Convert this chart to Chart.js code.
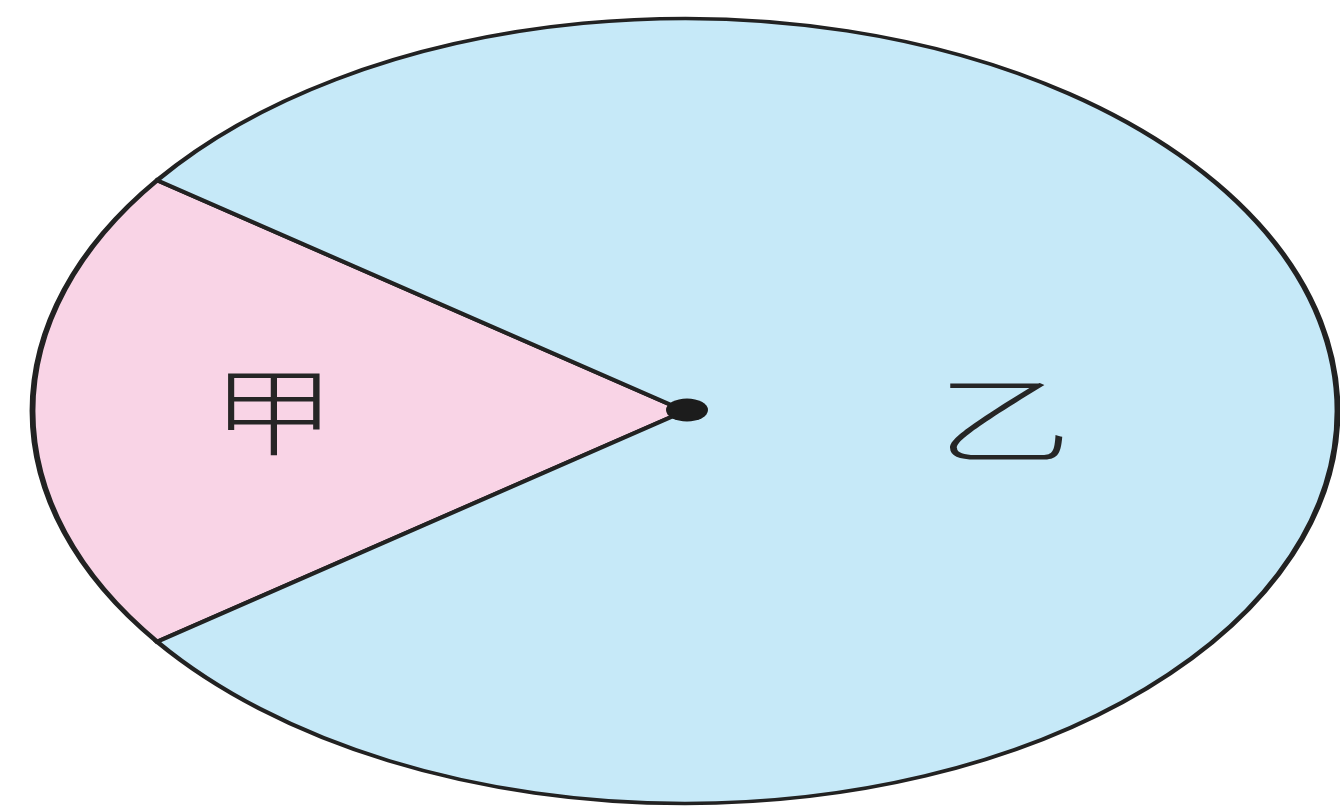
<!DOCTYPE html>
<html>
<head>
<meta charset="utf-8">
<script src="https://cdn.jsdelivr.net/npm/chart.js@4"></script>
<style>
html,body{margin:0;padding:0;background:#fff;}
#wrap{width:1340px;height:806px;position:relative;}
</style>
</head>
<body>
<div id="wrap"><canvas id="c" width="1340" height="806"></canvas></div>
<script>
// data
const categories = ['甲', '乙'];
const values = [20, 80];
const sliceColors = ['#F9D4E6', '#C6E9F8'];

// ellipse layout (target centre and radii on the page)
const CX = 685, CY = 411, RX = 652.5, RY = 392.5;
const LABEL_R = [0.63, 0.49];
const LABEL_DY = [0, 8];
const LABEL_SX = [1.3, 1.4];

const ellipsePlugin = {
  id: 'ellipse',
  beforeDatasetsDraw(chart) {
    const ctx = chart.ctx;
    const arc = chart.getDatasetMeta(0).data[0];
    ctx.save();
    ctx.translate(CX, CY);
    ctx.scale(RX / arc.outerRadius, RY / arc.outerRadius);
    ctx.translate(-arc.x, -arc.y);
  },
  afterDatasetsDraw(chart) {
    const ctx = chart.ctx;
    ctx.restore();
    const meta = chart.getDatasetMeta(0);
    // dark centre blob
    ctx.save();
    ctx.fillStyle = '#1c1c1c';
    ctx.beginPath();
    ctx.ellipse(CX + 2, CY - 1, 21, 11.5, 0, 0, Math.PI * 2);
    ctx.fill();
    ctx.restore();
    // labels
    meta.data.forEach((arc, i) => {
      const mid = (arc.startAngle + arc.endAngle) / 2;
      const r = LABEL_R[i];
      const lx = CX + Math.cos(mid) * r * RX;
      const ly = CY + Math.sin(mid) * r * RY + LABEL_DY[i];
      ctx.save();
      ctx.translate(lx, ly);
      ctx.scale(LABEL_SX[i], 1);
      ctx.fillStyle = '#262626';
      ctx.font = '300 96px "Noto Sans CJK SC"';
      ctx.textAlign = 'center';
      ctx.textBaseline = 'middle';
      ctx.fillText(categories[i], 0, 0);
      ctx.restore();
    });
  }
};

new Chart(document.getElementById('c'), {
  type: 'pie',
  data: {
    labels: categories,
    datasets: [{
      data: values,
      backgroundColor: sliceColors,
      borderColor: '#222222',
      borderWidth: 3.5,
      borderJoinStyle: 'miter'
    }]
  },
  options: {
    responsive: false,
    animation: false,
    rotation: 234,
    layout: { padding: 10 },
    plugins: {
      legend: { display: false },
      tooltip: { enabled: false }
    }
  },
  plugins: [ellipsePlugin]
});
</script>
</body>
</html>
